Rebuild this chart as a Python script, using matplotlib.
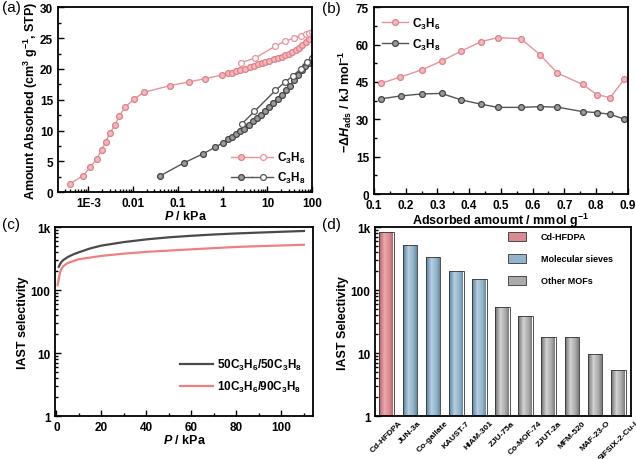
import numpy as np
import matplotlib
matplotlib.use("Agg")
import matplotlib.pyplot as plt
from matplotlib.legend_handler import HandlerTuple
from matplotlib.patches import Patch
from matplotlib.colors import LinearSegmentedColormap
from matplotlib.ticker import MultipleLocator, LogLocator, NullFormatter

plt.rcParams['font.family'] = ['Liberation Sans', 'DejaVu Sans']
plt.rcParams['font.weight'] = 'bold'
plt.rcParams['axes.labelweight'] = 'bold'
plt.rcParams['font.size'] = 8.5
plt.rcParams['mathtext.fontset'] = 'custom'
plt.rcParams['mathtext.rm'] = 'Liberation Sans:bold'
plt.rcParams['mathtext.it'] = 'Liberation Sans:italic:bold'
plt.rcParams['mathtext.bf'] = 'Liberation Sans:bold'

# ---- (a) isotherms ----
p6_ads = [4.0e-4, 7.7e-4, 1.12e-3, 1.54e-3, 2.0e-3, 2.45e-3, 3.07e-3, 3.9e-3, 4.9e-3, 6.6e-3,
          0.0106, 0.0173, 0.068, 0.175, 0.4, 0.96, 1.3, 1.6, 2.0, 2.5, 3.2, 4.0, 5.0, 6.3,
          7.5, 8.9, 11, 14, 17, 21, 25, 30, 36, 43, 51, 60, 71, 83, 100]
q6_ads = [1.4, 2.7, 4.1, 5.4, 6.9, 8.2, 9.6, 10.9, 12.3, 13.8,
          15.1, 16.2, 17.3, 17.9, 18.4, 19.0, 19.3, 19.4, 19.6, 19.8, 20.0, 20.3, 20.5, 20.8,
          20.9, 21.1, 21.3, 21.6, 21.8, 22.0, 22.2, 22.4, 22.7, 23.0, 23.4, 23.8, 24.3, 24.8, 25.8]
p6_des = [2.6, 5.4, 15, 25, 39, 55, 71, 85, 100]
q6_des = [21.0, 21.8, 23.7, 24.5, 25.0, 25.4, 25.7, 25.9, 26.0]

p8_ads = [0.039, 0.14, 0.36, 0.68, 1.0, 1.3, 1.6, 2.0, 2.5, 3.0, 3.8, 4.7, 5.8, 7.2, 8.9,
          11, 13.5, 17, 21, 26, 32, 39, 48, 58, 70, 85, 100]
q8_ads = [2.6, 4.8, 6.2, 7.3, 8.0, 8.6, 9.0, 9.4, 9.9, 10.3, 10.9, 11.5, 12.1, 12.6, 13.1,
          13.8, 14.5, 15.1, 15.7, 16.5, 17.3, 18.2, 19.0, 19.8, 20.5, 21.0, 21.5]
p8_des = [2.7, 5.1, 15, 25, 37, 55, 78, 100]
q8_des = [11.1, 13.1, 16.5, 17.9, 18.9, 20.0, 21.1, 21.7]

# ---- (b) isosteric heat ----
load6 = [0.121, 0.181, 0.251, 0.313, 0.375, 0.437, 0.49, 0.563, 0.623, 0.678, 0.758, 0.803, 0.845, 0.889]
qst6 = [44.4, 46.9, 49.9, 53.4, 57.4, 61.2, 62.8, 62.4, 56.0, 48.6, 44.0, 39.9, 38.7, 46.2]
load8 = [0.121, 0.184, 0.251, 0.313, 0.375, 0.437, 0.49, 0.563, 0.623, 0.678, 0.758, 0.803, 0.845, 0.889]
qst8 = [38.2, 39.4, 40.2, 40.4, 37.8, 36.1, 34.8, 34.8, 35.1, 34.9, 33.1, 32.7, 32.0, 30.1]

# ---- (c) IAST selectivity ----
pc_50 = [1, 2, 3, 5, 7.5, 10, 15, 20, 30, 40, 50, 60, 70, 80, 90, 100, 110]
s_50 = [235, 275, 300, 335, 370, 400, 460, 510, 580, 640, 690, 730, 765, 795, 820, 845, 870]
pc_10 = [0.5, 1, 1.5, 2, 3, 5, 7.5, 10, 15, 20, 30, 40, 50, 60, 70, 80, 90, 100, 110]
s_10 = [120, 150, 185, 210, 240, 270, 290, 310, 330, 350, 380, 405, 425, 445, 465, 485, 500, 512, 525]

# ---- (d) comparison ----
materials = ['Cd-HFDPA', 'JUN-3a', 'Co-gallate', 'KAUST-7', 'HIAM-301', 'ZJU-75a',
             'Co-MOF-74', 'ZJUT-2a', 'MFM-520', 'MAF-23-O', 'SIFSIX-2-Cu-i']
selectivity = [850, 520, 340, 204, 152, 54, 38.5, 17.3, 17, 8.7, 4.4]
groups = ['Cd-HFDPA', 'Molecular sieves', 'Molecular sieves', 'Molecular sieves', 'Molecular sieves',
          'Other MOFs', 'Other MOFs', 'Other MOFs', 'Other MOFs', 'Other MOFs', 'Other MOFs']

pink = '#e8939a'
pink_face = '#f2b8bb'
grey = '#555555'
grey_face = '#9a9a9a'
red_c = '#f08080'

fig = plt.figure(figsize=(6.36, 4.60), dpi=100)
axa = fig.add_axes([0.091, 0.580, 0.400, 0.402])
axb = fig.add_axes([0.588, 0.576, 0.399, 0.406])
axc = fig.add_axes([0.087, 0.093, 0.405, 0.411])
axd = fig.add_axes([0.590, 0.093, 0.402, 0.411])

for ax in (axa, axb, axc, axd):
    for s in ax.spines.values():
        s.set_linewidth(1.3)
    ax.tick_params(which='both', direction='in', top=False, right=False, width=1, labelsize=8.5)
    ax.tick_params(which='major', length=4)
    ax.tick_params(which='minor', length=2)

# (a)
mk = dict(marker='o', markersize=4.2, lw=1, mew=0.9)
l6a, = axa.plot(p6_ads, q6_ads, color=pink, mfc=pink_face, mec='#e07f88', **mk)
l6d, = axa.plot(p6_des, q6_des, color=pink, mfc='white', mec=pink, **mk)
l8a, = axa.plot(p8_ads, q8_ads, color=grey, mfc=grey_face, mec='#444444', **mk)
l8d, = axa.plot(p8_des, q8_des, color=grey, mfc='white', mec=grey, **mk)
axa.set_xscale('log')
axa.set_xlim(2.1e-4, 100)
axa.set_ylim(0, 30)
axa.set_xticks([1e-3, 1e-2, 0.1, 1, 10, 100], ['1E-3', '0.01', '0.1', '1', '10', '100'])
axa.xaxis.set_minor_locator(LogLocator(base=10, subs=np.arange(2, 10)))
axa.xaxis.set_minor_formatter(NullFormatter())
axa.yaxis.set_major_locator(MultipleLocator(5))
axa.yaxis.set_minor_locator(MultipleLocator(2.5))
axa.set_xlabel(r'$\mathit{P}$ / kPa', labelpad=0, fontsize=9)
axa.set_ylabel(r'Amount Absorbed (cm$^3$ g$^{-1}$, STP)', labelpad=0, fontsize=9)
axa.legend([(l6a, l6d), (l8a, l8d)], [r'C$_3$H$_6$', r'C$_3$H$_8$'],
           handler_map={tuple: HandlerTuple(ndivide=None, pad=0)},
           loc='lower right', frameon=False, handlelength=3.6, fontsize=8.5,
           borderaxespad=0.2, labelspacing=0.4, handletextpad=0.3)

# (b)
axb.plot(load6, qst6, color=pink, mfc=pink_face, mec='#e07f88', label=r'C$_3$H$_6$', **mk)
axb.plot(load8, qst8, color=grey, mfc=grey_face, mec='#444444', label=r'C$_3$H$_8$', **mk)
axb.set_xlim(0.1, 0.9)
axb.set_ylim(0, 75)
axb.xaxis.set_major_locator(MultipleLocator(0.1))
axb.xaxis.set_minor_locator(MultipleLocator(0.05))
axb.yaxis.set_major_locator(MultipleLocator(15))
axb.yaxis.set_minor_locator(MultipleLocator(7.5))
axb.set_xlabel(r'Adsorbed amoumt / mmol g$^{-1}$', labelpad=0, fontsize=9)
axb.set_ylabel(r'$-\Delta \mathit{H}_{\rm ads}$ / kJ mol$^{-1}$', labelpad=1, fontsize=9)
axb.legend(loc='upper left', frameon=False, handlelength=2.2, fontsize=8.5,
           borderaxespad=0.3, labelspacing=0.5, handletextpad=0.3)

# (c)
axc.plot(pc_50, s_50, color='#4a4a4a', lw=1.6, label=r'50C$_3$H$_6$/50C$_3$H$_8$')
axc.plot(pc_10, s_10, color=red_c, lw=1.6, label=r'10C$_3$H$_6$/90C$_3$H$_8$')
axc.set_yscale('log')
axc.set_ylim(1, 1000)
axc.set_xlim(-0.5, 114)
axc.set_yticks([1, 10, 100, 1000], ['1', '10', '100', '1k'])
axc.yaxis.set_minor_locator(LogLocator(base=10, subs=np.arange(2, 10)))
axc.yaxis.set_minor_formatter(NullFormatter())
axc.xaxis.set_major_locator(MultipleLocator(20))
axc.xaxis.set_minor_locator(MultipleLocator(10))
axc.set_xlabel(r'$\mathit{P}$ / kPa', labelpad=0, fontsize=9)
axc.set_ylabel('IAST selectivity', labelpad=1, fontsize=9)
axc.legend(loc='lower right', bbox_to_anchor=(1.0, 0.06), frameon=False, handlelength=2.8,
           fontsize=8.5, labelspacing=0.6, handletextpad=0.4)

# (d)
group_cmaps = {
    'Cd-HFDPA': ['#b8666e', '#eba8ad', '#da8b92', '#ad5a62'],
    'Molecular sieves': ['#6386a0', '#b3cfe1', '#93b4ca', '#5a7d93'],
    'Other MOFs': ['#767676', '#d2d2d2', '#ababab', '#6c6c6c'],
}
xpos = np.arange(len(materials))
bars = axd.bar(xpos, selectivity, width=0.64, bottom=1, color='none',
               edgecolor='#333333', linewidth=0.6, zorder=3)
grad = np.linspace(0, 1, 64).reshape(1, -1)
for b, g in zip(bars, groups):
    cmap = LinearSegmentedColormap.from_list(g, group_cmaps[g])
    x0 = b.get_x()
    w = b.get_width()
    im = axd.imshow(grad, cmap=cmap, aspect='auto', extent=[x0, x0 + w, 1, b.get_y() + b.get_height()],
                    zorder=2, interpolation='bilinear')
    im.set_clip_path(b)
axd.set_yscale('log')
axd.set_ylim(1, 1000)
axd.set_xlim(-0.5, 10.55)
axd.set_yticks([1, 10, 100, 1000], ['1', '10', '100', '1k'])
axd.yaxis.set_minor_locator(LogLocator(base=10, subs=np.arange(2, 10)))
axd.yaxis.set_minor_formatter(NullFormatter())
axd.set_xticks(xpos, materials, rotation=45, ha='center', fontsize=6)
axd.tick_params(axis='x', length=0, pad=2)
axd.set_ylabel('IAST Selectivity', labelpad=1, fontsize=9)
handles = [Patch(facecolor=group_cmaps[g][2], edgecolor='#333333', linewidth=0.6)
           for g in ['Cd-HFDPA', 'Molecular sieves', 'Other MOFs']]
axd.legend(handles, ['Cd-HFDPA', 'Molecular sieves', 'Other MOFs'], loc='upper left',
           bbox_to_anchor=(0.52, 0.975), frameon=False, fontsize=6.5, handlelength=2.0,
           handleheight=1.1, labelspacing=1.4, handletextpad=1.6, borderpad=0, borderaxespad=0)

for lab, x, y in [('(a)', 0.003, 0.997), ('(b)', 0.507, 0.995), ('(c)', 0.003, 0.526), ('(d)', 0.507, 0.526)]:
    fig.text(x, y, lab, ha='left', va='top', fontsize=11, fontweight='normal')

fig.savefig('out.png', dpi=100)
